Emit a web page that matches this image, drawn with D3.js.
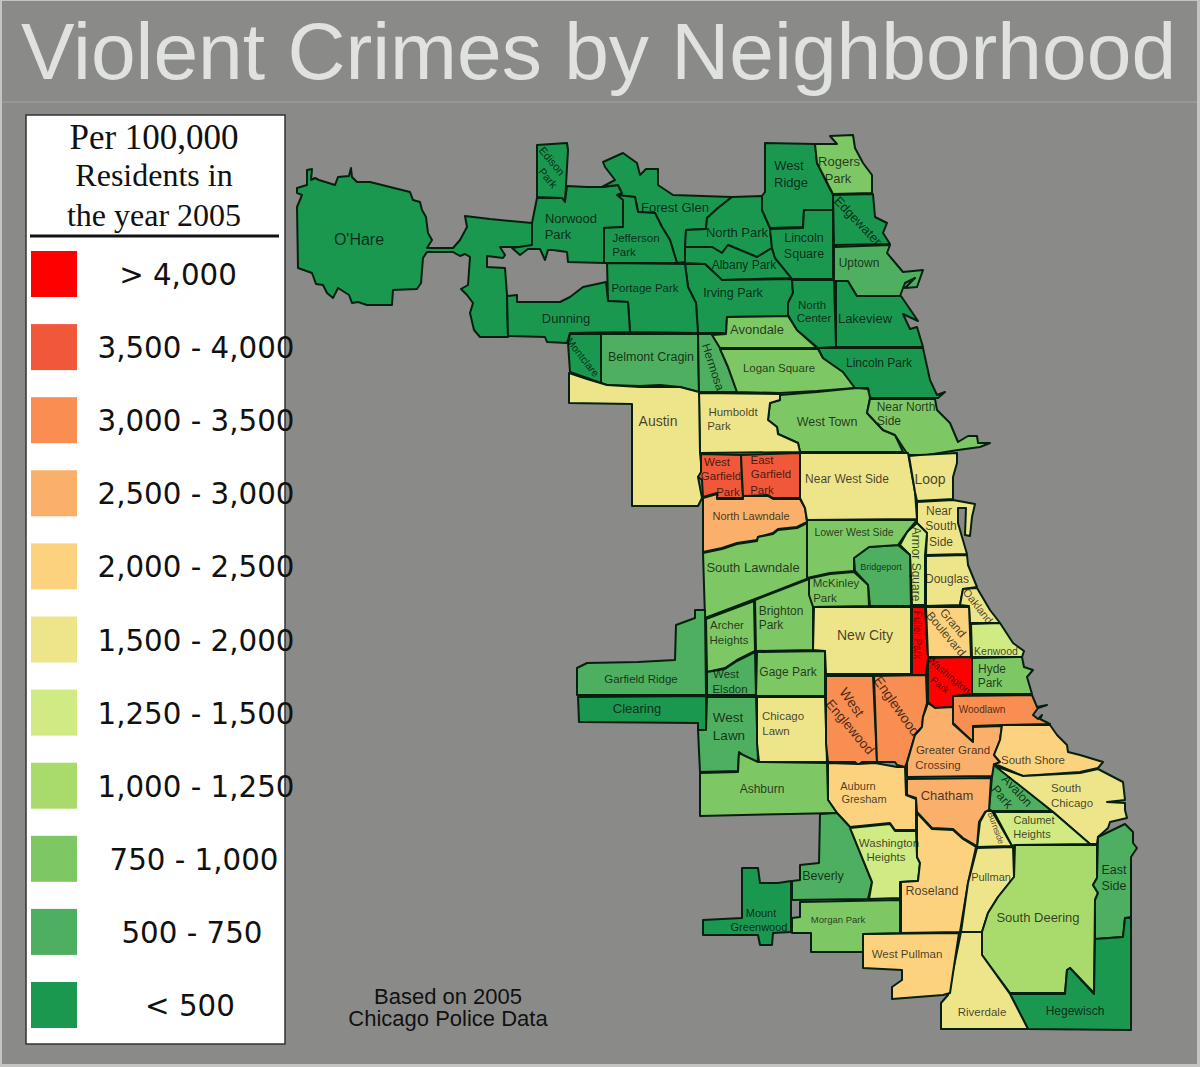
<!DOCTYPE html>
<html>
<head>
<meta charset="utf-8">
<title>Violent Crimes by Neighborhood</title>
<script src="https://d3js.org/d3.v7.min.js"></script>
<style>
  html, body { margin: 0; padding: 0; background: #8a8b89; }
  svg { display: block; }
</style>
</head>
<body>
<script>
// legend classes, worst first
var rateLabels = ["> 4,000", "3,500 - 4,000", "3,000 - 3,500", "2,500 - 3,000", "2,000 - 2,500",
  "1,500 - 2,000", "1,250 - 1,500", "1,000 - 1,250", "750 - 1,000", "500 - 750", "< 500"];
var rateColors = ["#ff0000", "#f15839", "#f98e52", "#fab06a", "#fdd27f", "#eee58b",
  "#d0ea84", "#a9da6c", "#7ec765", "#4daf5f", "#1a9850"];
var legendHeading = ["Per 100,000", "Residents in", "the year 2005"];
var footnote = ["Based on 2005", "Chicago Police Data"];

var neighborhoods = ["O'Hare", "Edison Park", "Norwood Park", "Forest Glen", "Jefferson Park", "North Park", "Albany Park",
  "Irving Park", "Portage Park", "Dunning", "Montclare", "Belmont Cragin", "Hermosa", "Avondale", "Logan Square",
  "North Center", "Lakeview", "Lincoln Park", "West Ridge", "Rogers Park", "Edgewater", "Uptown", "Lincoln Square",
  "West Town", "Near North Side", "Humboldt Park", "Austin", "West Garfield Park", "East Garfield Park",
  "North Lawndale", "South Lawndale", "Near West Side", "Loop", "Near South Side", "Armor Square", "Douglas",
  "Oakland", "Kenwood", "Hyde Park", "Woodlawn", "Washington Park", "Fuller Park", "Grand Boulevard", "New City",
  "Bridgeport", "Lower West Side", "McKinley Park", "Brighton Park", "Archer Heights", "West Elsdon", "Gage Park",
  "Garfield Ridge", "Clearing", "West Lawn", "Chicago Lawn", "West Englewood", "Englewood",
  "Greater Grand Crossing", "South Shore", "Avalon Park", "South Chicago", "Calumet Heights", "Burnside", "Chatham",
  "Auburn Gresham", "Ashburn", "Beverly", "Washington Heights", "Roseland", "Pullman", "South Deering", "East Side",
  "Hegewisch", "Riverdale", "West Pullman", "Morgan Park", "Mount Greenwood"];

// index into rateLabels, same order as neighborhoods
var rateClass = [10, 10, 10, 10, 10, 10, 10, 10, 10, 10, 10, 9, 9, 8, 8, 10, 10, 10, 10, 8, 10, 9, 10, 8, 8, 5, 5, 1, 1,
  3, 8, 5, 5, 5, 6, 5, 5, 6, 8, 2, 0, 0, 4, 5, 9, 8, 8, 8, 8, 9, 8, 9, 10, 9, 5, 2, 2, 3, 4, 9, 5, 6, 5, 3, 4, 8, 9, 6,
  4, 5, 7, 9, 10, 5, 4, 8, 10];

var outlines = [
  "297,188 307,185 307,170 312,169 311,180 315,178 319,180 335,185 338,177 349,176 351,168 352,177 357,182 370,182 410,192 413,200 420,202 422,210 426,217 428,233 432,240 427,248 453,248 460,240 467,227 465,216 490,219 532,223 532,245 528,247 500,247 505,255 503,258 487,256 487,267 505,268 507,295 508,337 480,337 474,330 470,313 473,303 467,295 461,289 468,285 470,257 465,254 460,256 453,252 427,252 423,258 421,283 417,289 393,290 392,305 367,305 358,302 352,303 349,295 338,288 333,298 327,293 323,285 316,284 312,273 298,268 297,207 302,195 297,193",
  "537,145 567,143 568,150 565,202 562,198 537,197",
  "537,198 562,198 565,202 567,186 587,187 602,187 618,185 622,193 623,200 623,227 604,228 604,263 568,262 567,252 553,250 548,250 545,260 540,249 528,249 520,255 512,248 532,245 532,223",
  "603,162 623,153 637,163 640,175 646,169 658,169 658,185 673,195 732,197 718,208 707,218 706,229 686,230 685,262 677,263 670,240 662,227 655,213 638,212 635,197 617,195 622,193 618,185 602,187 615,180 605,167",
  "617,195 635,197 638,212 655,213 662,227 670,240 677,263 604,263 604,228 623,227 623,200",
  "732,197 762,196 762,210 770,228 772,248 757,257 728,245 722,253 712,247 685,247 686,230 706,229 707,218 718,208",
  "685,247 712,247 722,253 728,245 757,257 772,248 775,258 792,278 722,280 705,264 685,263",
  "685,264 705,264 722,280 792,279 793,293 788,303 788,316 727,317 726,333 698,333 696,303 688,287",
  "607,263 685,264 688,287 696,303 698,333 630,332 628,302 608,301",
  "507,296 517,295 517,302 560,302 570,297 583,287 606,282 608,301 628,302 630,332 570,333 567,343 547,342 545,337 508,336",
  "570,334 601,334 601,383 587,378 570,372 568,343",
  "601,334 698,334 699,392 680,387 660,385 640,386 607,385 601,383",
  "698,334 712,334 720,348 728,367 737,392 699,392",
  "727,317 788,316 797,330 817,348 720,348 712,335 726,334",
  "720,349 818,349 823,358 843,372 855,388 817,391 780,393 737,392 728,367",
  "792,280 834,280 836,347 818,348 797,330 788,315 788,303 793,293",
  "836,281 848,281 857,296 901,296 918,321 903,314 910,329 917,327 923,347 836,347",
  "818,348 923,348 930,380 937,395 945,392 938,398 870,398 868,388 855,388 843,372 823,358",
  "765,143 815,144 817,163 833,195 833,210 804,210 803,227 770,228 762,210 762,196 765,192",
  "815,144 837,144 830,136 853,135 855,148 863,163 872,175 872,193 833,194 817,163",
  "833,195 873,194 875,217 887,223 883,233 890,244 834,245",
  "834,247 890,245 887,253 903,272 923,270 917,287 905,288 915,278 905,283 900,296 857,296 848,281 834,281",
  "804,210 833,210 833,279 792,279 775,258 772,248 770,229 803,228",
  "780,395 817,392 857,388 868,389 870,398 867,413 883,430 895,435 903,452 800,452 798,443 778,434 777,427 768,420 770,403 780,400",
  "870,399 935,399 937,410 950,423 958,442 968,436 977,436 978,443 990,443 980,447 958,450 927,455 908,455 895,435 883,430 867,413",
  "699,393 780,394 780,400 770,403 768,420 777,427 778,434 798,443 800,452 700,453",
  "569,373 587,379 607,385 640,387 680,387 699,392 700,453 702,473 698,477 702,498 698,506 632,506 632,404 569,403",
  "701,454 741,455 743,498 717,498 717,493 703,497 702,480 698,477 701,472",
  "741,455 800,453 800,498 773,498 768,495 743,496",
  "703,498 717,494 717,499 743,499 743,496 768,496 773,499 800,499 805,508 807,522 797,527 778,529 773,533 758,537 757,540 737,543 722,548 703,552",
  "703,553 722,549 737,544 757,541 758,537 773,534 778,530 797,528 807,523 809,578 755,599 705,618",
  "800,453 908,453 915,492 917,519 807,520 805,508 800,498",
  "909,456 920,455 957,453 957,463 953,477 953,499 917,501 915,492",
  "917,502 953,500 975,504 972,517 970,536 965,535 966,508 958,508 958,523 960,530 967,554 926,555 927,533 917,523",
  "917,523 927,533 925,555 925,605 912,605 910,555 900,545 907,532",
  "926,556 967,555 968,565 977,587 963,589 960,605 926,606",
  "963,589 977,588 990,610 1000,623 970,623 969,606 960,605",
  "971,624 1000,623 1013,643 1024,651 1022,657 972,657",
  "972,658 1022,657 1024,667 1033,670 1027,677 1032,694 972,694",
  "953,696 1032,695 1037,707 1047,705 1038,708 1033,715 1038,719 1042,715 1040,719 1050,724 1002,725 973,726 973,742 953,723",
  "928,658 972,657 972,694 953,696 953,707 935,708 928,702",
  "912,607 925,607 928,658 926,675 912,675",
  "926,607 969,607 971,657 928,657",
  "814,607 911,607 911,674 826,674 825,651 813,650",
  "869,547 898,545 910,555 911,606 870,606 868,585 855,571 854,558",
  "807,520 917,520 907,532 898,545 869,547 854,558 854,571 830,573 807,578",
  "807,579 830,574 854,572 868,585 869,606 813,607 807,593",
  "755,600 809,579 809,595 813,607 813,650 756,651",
  "706,619 754,601 755,651 737,660 725,668 707,672",
  "707,672 725,669 737,661 755,652 756,695 707,695",
  "757,652 825,651 825,696 756,696",
  "695,610 705,610 706,695 577,695 577,668 587,663 638,662 675,660 676,625 695,618",
  "578,697 706,696 706,730 698,730 698,723 579,722",
  "707,697 756,697 758,762 750,760 739,752 738,771 700,772 698,730 706,730",
  "757,697 825,697 827,762 759,762 757,743",
  "826,676 873,676 877,762 862,762 858,765 855,762 828,762 826,743",
  "874,676 926,675 927,703 923,717 922,727 915,735 907,762 905,767 897,765 895,762 877,762",
  "928,703 935,708 953,707 953,724 973,742 973,727 1002,726 1000,740 994,755 1000,762 992,776 907,777 907,763 915,735 922,727 923,717",
  "1002,725 1050,725 1057,735 1067,745 1068,752 1080,755 1103,762 1098,768 1080,772 1023,776 995,764 1000,762 994,755 1000,740",
  "994,764 1052,811 992,811 989,809 992,777",
  "995,766 1023,776 1080,773 1098,769 1123,782 1125,800 1107,802 1125,803 1125,810 1127,818 1110,822 1108,828 1098,837 1097,844 1090,844 1052,811",
  "994,812 1053,812 1090,844 1015,845 1012,846",
  "986,811 992,811 1012,846 977,847 980,822",
  "907,779 991,778 989,810 985,812 979,822 977,846 963,838 953,829 932,828 917,812 916,798 907,795",
  "828,763 858,764 875,763 897,767 905,767 906,795 916,799 916,830 895,830 890,823 850,827 837,813 828,800",
  "700,773 738,772 739,753 758,762 827,763 828,800 837,813 790,814 700,816",
  "820,814 837,813 850,827 872,882 868,899 792,900 792,881 800,880 800,865 819,863",
  "850,828 890,824 895,831 916,831 917,857 920,863 918,881 900,882 900,898 869,899 872,882",
  "917,813 932,829 953,830 963,839 976,847 968,883 960,932 901,933 901,882 918,881 920,863 917,857 917,830",
  "977,848 1013,847 1014,877 998,897 988,913 982,932 961,932 968,883",
  "1015,845 1053,845 1097,845 1097,878 1093,885 1098,893 1095,900 1094,993 1070,968 1067,970 1065,993 1010,993 982,955 982,932 988,913 998,897 1014,877",
  "1098,837 1125,824 1133,832 1133,843 1137,848 1131,857 1131,917 1125,918 1123,937 1095,939 1095,900 1098,893 1093,885 1097,878",
  "1095,939 1123,937 1125,918 1131,918 1131,1030 1028,1029 1010,994 1065,994 1067,970 1070,968 1094,994",
  "961,932 982,932 982,955 1010,994 1028,1029 941,1029 941,1003 948,995",
  "863,934 959,933 950,993 943,995 892,999 892,987 902,980 902,970 863,968",
  "800,902 900,900 900,933 863,934 863,952 811,952 811,933 792,933 792,918 800,917",
  "742,868 758,868 760,883 778,883 791,881 791,932 773,933 772,945 760,945 758,935 703,935 703,920 742,918"
];

// text, x, y, size, angle
var placeLabels = [
  ["O'Hare", 359, 239, 16, 0], ["Edison", 552, 161, 11, 50], ["Park", 548, 178, 11, 50],
  ["Norwood", 571, 218, 13, 0], ["Park", 558, 234, 13, 0], ["Forest Glen", 675, 207, 13, 0],
  ["Jefferson", 636, 238, 11.5, 0], ["Park", 624, 252, 11.5, 0], ["West", 789, 165, 13, 0], ["Ridge", 791, 182, 13, 0],
  ["Rogers", 839, 161, 13, 0], ["Park", 838, 178, 13, 0], ["Edgewater", 858, 221, 13, 46],
  ["North Park", 737, 232, 13, 0], ["Lincoln", 804, 238, 12.5, 0], ["Square", 804, 254, 12.5, 0],
  ["Albany Park", 744, 265, 12, 0], ["Uptown", 859, 263, 12, 0], ["Portage Park", 645, 288, 11.5, 0],
  ["Irving Park", 733, 293, 12.5, 0], ["Dunning", 566, 318, 13, 0], ["North", 812, 305, 11.5, 0], ["Center", 814, 318, 11.5, 0],
  ["Lakeview", 865, 318, 13, 0], ["Avondale", 757, 329, 13, 0], ["Belmont Cragin", 651, 357, 12.5, 0],
  ["Hermosa", 713, 367, 12, 72], ["Logan Square", 779, 368, 11.5, 0], ["Lincoln Park", 879, 363, 12, 0],
  ["Montclare", 583, 357, 10.5, 52], ["Near North", 906, 407, 12, 0], ["Side", 889, 421, 12, 0],
  ["Humboldt", 733, 412, 11.5, 0], ["Park", 719, 426, 11.5, 0], ["Austin", 658, 421, 14, 0], ["West Town", 827, 422, 12.5, 0],
  ["West", 717, 462, 11.5, 0], ["Garfield", 721, 476, 11.5, 0], ["Park", 728, 492, 11.5, 0],
  ["East", 762, 460, 11.5, 0], ["Garfield", 771, 474, 11.5, 0], ["Park", 762, 490, 11.5, 0],
  ["Near West Side", 847, 479, 12, 0], ["Loop", 930, 479, 14, 0], ["Near", 939, 511, 12, 0], ["South", 941, 526, 12, 0], ["Side", 941, 542, 12, 0],
  ["North Lawndale", 751, 516, 11, 0], ["Lower West Side", 854, 532, 10.5, 0], ["South Lawndale", 753, 567, 13, 0],
  ["Armor Square", 916, 564, 12, 90], ["Bridgeport", 881, 567, 9, 0], ["McKinley", 836, 583, 11.5, 0], ["Park", 825, 598, 11.5, 0],
  ["Douglas", 947, 579, 12, 0], ["Oakland", 978, 606, 11, 52], ["Brighton", 781, 611, 12, 0], ["Park", 771, 625, 12, 0],
  ["Archer", 727, 625, 11.5, 0], ["Heights", 729, 640, 11.5, 0], ["New City", 865, 635, 14, 0], ["Fuller Park", 917, 635, 10, 90],
  ["Grand", 953, 623, 12, 50], ["Boulevard", 946, 634, 12, 50], ["Kenwood", 996, 651, 10.5, 0], ["Hyde", 992, 669, 12, 0], ["Park", 990, 683, 12, 0],
  ["Washington", 949, 675, 10, 40], ["Park", 940, 685, 10, 40], ["Garfield Ridge", 641, 679, 11.5, 0], ["Clearing", 637, 708, 13, 0],
  ["West", 726, 674, 11.5, 0], ["Elsdon", 730, 689, 11.5, 0], ["Gage Park", 788, 672, 12, 0], ["West", 728, 717, 13.5, 0], ["Lawn", 729, 735, 13.5, 0],
  ["Chicago", 783, 716, 11.5, 0], ["Lawn", 776, 731, 11.5, 0], ["West", 852, 702, 14, 55], ["Englewood", 850, 727, 13.5, 50],
  ["Englewood", 897, 706, 14, 55], ["Woodlawn", 982, 709, 10, 0], ["Greater Grand", 953, 750, 11.5, 0], ["Crossing", 938, 765, 11.5, 0],
  ["South Shore", 1033, 760, 11.5, 0], ["Avalon", 1017, 791, 12.5, 47], ["Park", 1002, 797, 12.5, 50], ["South", 1066, 788, 11.5, 0], ["Chicago", 1072, 803, 11.5, 0],
  ["Auburn", 858, 786, 11, 0], ["Gresham", 864, 799, 11, 0], ["Chatham", 947, 795, 13, 0], ["Ashburn", 762, 789, 12, 0],
  ["Calumet", 1034, 820, 11, 0], ["Heights", 1032, 834, 11, 0], ["Burnside", 996, 828, 8.5, 70], ["Washington", 889, 843, 11.5, 0], ["Heights", 886, 857, 11.5, 0],
  ["Pullman", 991, 877, 11, 0], ["Beverly", 823, 876, 12.5, 0], ["East", 1114, 870, 12.5, 0], ["Side", 1114, 886, 12.5, 0], ["Roseland", 932, 891, 12.5, 0],
  ["South Deering", 1038, 917, 13, 0], ["Mount", 761, 913, 11, 0], ["Greenwood", 759, 927, 11, 0], ["Morgan Park", 838, 919, 9.5, 0],
  ["West Pullman", 907, 954, 11.5, 0], ["Riverdale", 982, 1012, 11.5, 0], ["Hegewisch", 1075, 1011, 12, 0]
];

// centre of each legend text, they are not lined up in the source
var legendTextX = [178, 196, 196, 196, 196, 196, 196, 196, 194, 192, 190];

var width = 1200, height = 1067;
var sans = "'Liberation Sans', Arial, sans-serif";

var svg = d3.select("body").append("svg")
  .attr("width", width)
  .attr("height", height);

// page edge, panel and title rule
svg.append("rect").attr("width", width).attr("height", height).attr("fill", "#c4c5c3");
svg.append("rect").attr("x", 2).attr("y", 1).attr("width", 1195).attr("height", 1063).attr("fill", "#8a8b89");
svg.append("line").attr("x1", 2).attr("x2", 1197).attr("y1", 102).attr("y2", 102)
  .attr("stroke", "#a3a4a2").attr("stroke-width", 1);
svg.append("text")
  .attr("x", 598.5).attr("y", 79)
  .attr("text-anchor", "middle")
  .attr("font-family", sans).attr("font-size", 80.35)
  .attr("fill", "#dfe2de")
  .text("Violent Crimes by Neighborhood");

// map
var color = d3.scaleOrdinal().domain(d3.range(rateLabels.length)).range(rateColors);
var path = d3.geoPath(d3.geoIdentity());

var features = neighborhoods.map(function (name, i) {
  var ring = outlines[i].split(" ").map(function (p) { return p.split(",").map(Number); });
  ring.push(ring[0]);
  return { type: "Feature", properties: { name: name, rate: rateClass[i] }, geometry: { type: "Polygon", coordinates: [ring] } };
});

svg.append("g").selectAll("path")
  .data(features)
  .join("path")
  .attr("d", path)
  .attr("fill", function (d) { return color(d.properties.rate); })
  .attr("stroke", "#06200f")
  .attr("stroke-width", 2)
  .attr("stroke-linejoin", "round");

svg.append("g").selectAll("text")
  .data(placeLabels)
  .join("text")
  .attr("transform", function (d) { return "translate(" + d[1] + "," + d[2] + ") rotate(" + d[4] + ")"; })
  .attr("text-anchor", "middle")
  .attr("dominant-baseline", "central")
  .attr("font-family", sans)
  .attr("font-size", function (d) { return d[3]; })
  .attr("fill", "#000")
  .attr("fill-opacity", 0.72)
  .text(function (d) { return d[0]; });

// legend
var legend = svg.append("g");
legend.append("rect").attr("x", 26).attr("y", 115).attr("width", 259).attr("height", 929)
  .attr("fill", "#fff").attr("stroke", "#333").attr("stroke-width", 1.5);

var headingY = d3.scaleOrdinal().domain(d3.range(3)).range([149, 186, 226]);
var headingSize = d3.scaleOrdinal().domain(d3.range(3)).range([35, 32, 32]);
legend.selectAll(".heading")
  .data(legendHeading)
  .join("text")
  .attr("class", "heading")
  .attr("x", 154)
  .attr("y", function (d, i) { return headingY(i); })
  .attr("text-anchor", "middle")
  .attr("font-family", "'Liberation Serif', serif")
  .attr("font-size", function (d, i) { return headingSize(i); })
  .attr("fill", "#111")
  .text(function (d) { return d; });
legend.append("line").attr("x1", 30).attr("x2", 279).attr("y1", 236).attr("y2", 236)
  .attr("stroke", "#111").attr("stroke-width", 3);

var rowY = d3.scalePoint().domain(d3.range(rateLabels.length)).range([274, 1005]);
legend.selectAll(".swatch")
  .data(rateLabels)
  .join("rect")
  .attr("class", "swatch")
  .attr("x", 31).attr("width", 46).attr("height", 46)
  .attr("y", function (d, i) { return rowY(i) - 23; })
  .attr("fill", function (d, i) { return color(i); });
legend.selectAll(".rate")
  .data(rateLabels)
  .join("text")
  .attr("class", "rate")
  .attr("x", function (d, i) { return legendTextX[i]; })
  .attr("y", function (d, i) { return rowY(i) + 1; })
  .attr("text-anchor", "middle")
  .attr("dominant-baseline", "central")
  .attr("font-family", "'DejaVu Sans', sans-serif")
  .attr("font-size", 29.3)
  .attr("fill", "#111")
  .text(function (d) { return d; });

// source note
svg.append("g").selectAll("text")
  .data(footnote)
  .join("text")
  .attr("x", 448)
  .attr("y", function (d, i) { return 1004 + i * 22; })
  .attr("text-anchor", "middle")
  .attr("font-family", sans)
  .attr("font-size", 22)
  .attr("fill", "#111")
  .text(function (d) { return d; });
</script>
</body>
</html>
